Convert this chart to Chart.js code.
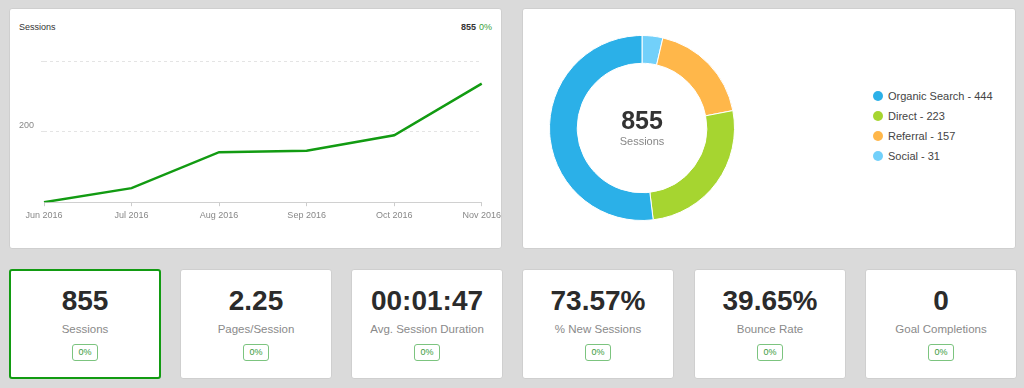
<!DOCTYPE html>
<html>
<head>
<meta charset="utf-8">
<script src="https://cdn.jsdelivr.net/npm/chart.js@4/dist/chart.umd.min.js"></script>
<style>
  html, body { margin: 0; padding: 0; }
  body {
    width: 1024px; height: 388px; background: #dadada; position: relative; overflow: hidden;
    font-family: "Helvetica Neue", Helvetica, Arial, "Liberation Sans", sans-serif;
  }
  .card {
    position: absolute; background: #fff; border: 1px solid #cfcfcf; border-radius: 3px;
    box-sizing: border-box;
  }
  .card canvas { position: absolute; }
  .hdr { position: absolute; top: 13px; font-size: 9px; color: #333; }
  .hdr.right { right: 9px; }
  .hdr b { font-weight: bold; }
  .hdr .pct { color: #3aa23a; margin-left: 3px; }
  .center { position: absolute; text-align: center; width: 120px; }
  .center .big { font-size: 25px; font-weight: bold; color: #333; line-height: 28px; }
  .center .sub { font-size: 11px; color: #888; line-height: 14px; }
  #legend { position: absolute; left: 350px; top: 77px; }
  .li { height: 20px; line-height: 20px; font-size: 11px; color: #444; white-space: nowrap; }
  .li i { display: inline-block; width: 10px; height: 10px; border-radius: 50%; margin-right: 5px; vertical-align: -1px; }
  .stat { top: 269px; width: 152px; height: 110px; text-align: center; }
  .stat.active { border: 2px solid #129b12; }
  .stat .val { position: absolute; left: 0; right: 0; top: 15px; font-size: 28px; font-weight: bold; color: #2b2b2b; line-height: 32px; }
  .stat .lbl { position: absolute; left: 0; right: 0; top: 53px; font-size: 11.5px; color: #8a8a8a; }
  .stat .badge {
    position: absolute; left: 50%; top: 74px; margin-left: -13px; width: 26px; height: 17px; box-sizing: border-box;
    border: 1px solid #7cc47f; border-radius: 3px; font-size: 9px; color: #3a9a3d; line-height: 15px;
  }
  .stat.active .val { top: 14px; } .stat.active .lbl { top: 52px; } .stat.active .badge { top: 73px; }
</style>
</head>
<body>

<div class="card" style="left:9px; top:8px; width:493px; height:241px;">
  <div class="hdr" style="left:9px;">Sessions</div>
  <div class="hdr right"><b>855</b><span class="pct">0%</span></div>
  <canvas id="lineChart" width="496" height="180" style="left:-1px; top:40px;"></canvas>
</div>

<div class="card" style="left:522px; top:8px; width:494px; height:241px;">
  <canvas id="donutChart" width="200" height="200" style="left:19px; top:19px;"></canvas>
  <div class="center" style="left:59px; top:97px;">
    <div class="big">855</div>
    <div class="sub">Sessions</div>
  </div>
  <div id="legend"></div>
</div>

<div id="stats"></div>

<script>
"use strict";

// monthly sessions
const months = ["Jun 2016", "Jul 2016", "Aug 2016", "Sep 2016", "Oct 2016", "Nov 2016"];
const sessions = [0, 40, 142, 146, 190, 337];

// channel breakdown
const channelLabels = ["Organic Search", "Direct", "Referral", "Social"];
const channelValues = [444, 223, 157, 31];
const channelColors = ["#2bb0e8", "#a6d530", "#ffb74a", "#72d0fa"];

// summary cards
const statValues = ["855", "2.25", "00:01:47", "73.57%", "39.65%", "0"];
const statLabels = ["Sessions", "Pages/Session", "Avg. Session Duration", "% New Sessions", "Bounce Rate", "Goal Completions"];
const statChanges = ["0%", "0%", "0%", "0%", "0%", "0%"];
const statLefts = [9, 180, 351, 522, 694, 865];

const FONT = "'Helvetica Neue', Helvetica, Arial, 'Liberation Sans', sans-serif";

new Chart(document.getElementById("lineChart"), {
    type: "line",
    data: {
        labels: months,
        datasets: [{
            data: sessions,
            borderColor: "#129b12",
            borderWidth: 2.5,
            pointRadius: 0,
            tension: 0,
            fill: false
        }]
    },
    options: {
        responsive: false,
        animation: false,
        layout: { padding: { left: 0, right: 19, top: 3, bottom: 4 } },
        plugins: { legend: { display: false }, tooltip: { enabled: false } },
        scales: {
            x: {
                grid: { drawOnChartArea: false, tickLength: 4, color: "#cccccc" },
                border: { color: "#d0d0d0" },
                ticks: { color: "#888", padding: 4, maxRotation: 0, font: { family: FONT, size: 9 } }
            },
            y: {
                min: 0, max: 400,
                afterFit: (axis) => { axis.width = 35 },
                grid: {
                    tickLength: 3,
                    color: (ctx) => ctx.tick && ctx.tick.value === 0 ? "rgba(0,0,0,0)" : "#e4e4e4"
                },
                border: { display: false, dash: [3, 3] },
                ticks: {
                    stepSize: 200, padding: 7, labelOffset: -6, color: "#888",
                    font: { family: FONT, size: 9 },
                    callback: (v) => v === 200 ? v : ""
                }
            }
        }
    }
});

// doughnut draws clockwise from the top: Social, Referral, Direct, Organic
const donutLabels = channelLabels.slice().reverse();
const donutValues = channelValues.slice().reverse();
const donutColors = channelColors.slice().reverse();

new Chart(document.getElementById("donutChart"), {
    type: "doughnut",
    data: {
        labels: donutLabels,
        datasets: [{
            data: donutValues,
            backgroundColor: donutColors,
            borderColor: "#ffffff",
            borderWidth: 1
        }]
    },
    options: {
        responsive: false,
        animation: false,
        cutout: "70%",
        layout: { padding: 7 },
        plugins: { legend: { display: false }, tooltip: { enabled: false } }
    }
});

let legendHtml = "";
channelLabels.forEach((name, i) => {
    legendHtml += `<div class="li"><i style="background:${channelColors[i]}"></i>${name} - ${channelValues[i]}</div>`;
});
document.getElementById("legend").innerHTML = legendHtml;

let statsHtml = "";
statValues.forEach((val, i) => {
    statsHtml += `<div class="card stat${i === 0 ? " active" : ""}" style="left:${statLefts[i]}px">
        <div class="val">${val}</div>
        <div class="lbl">${statLabels[i]}</div>
        <div class="badge">${statChanges[i]}</div>
    </div>`;
});
document.getElementById("stats").innerHTML = statsHtml;
</script>
</body>
</html>
